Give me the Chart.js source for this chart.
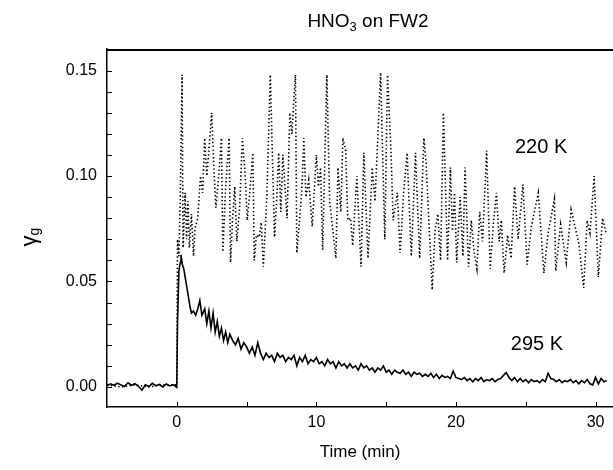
<!DOCTYPE html>
<html>
<head>
<meta charset="utf-8">
<script src="https://cdn.jsdelivr.net/npm/chart.js@4.4.1/dist/chart.umd.min.js"></script>
<style>
  html, body { margin: 0; padding: 0; background: #fff; }
  canvas { display: block; }
</style>
</head>
<body>
<canvas id="c" width="613" height="470"></canvas>
<script>
// 295 K trace (solid)
var t295 = [-5.0, -4.75, -4.5, -4.25, -4.0, -3.75, -3.5, -3.25, -3.0, -2.75, -2.5, -2.25, -2.0, -1.75, -1.5, -1.25, -1.0, -0.75, -0.5, -0.25, 0.0,
  0.05, 0.15, 0.25, 0.3, 0.4, 0.5, 0.65, 0.8, 0.95, 1.05, 1.2, 1.35, 1.5, 1.65, 1.8, 2.0, 2.15, 2.3, 2.45, 2.6, 2.75, 2.9, 3.05, 3.2, 3.35, 3.5, 3.65, 3.8,
  4.0, 4.2, 4.4, 4.6, 4.8, 5.0, 5.2, 5.4, 5.6, 5.8, 6.0, 6.2, 6.4, 6.6, 6.8, 7.0, 7.2, 7.4, 7.6, 7.8, 8.0, 8.2, 8.4, 8.6, 8.8, 9.0, 9.2, 9.4, 9.6, 9.8,
  10.0, 10.2, 10.4, 10.6, 10.8, 11.0, 11.2, 11.4, 11.6, 11.8, 12.0, 12.2, 12.4, 12.6, 12.8, 13.0, 13.2, 13.4, 13.6, 13.8, 14.0, 14.2, 14.4, 14.6, 14.8,
  15.0, 15.2, 15.4, 15.6, 15.8, 16.0, 16.2, 16.4, 16.6, 16.8, 17.0, 17.2, 17.4, 17.6, 17.8, 18.0, 18.2, 18.4, 18.6, 18.8, 19.0, 19.2, 19.4, 19.6, 19.8,
  20.0, 20.2, 20.4, 20.6, 20.8, 21.0, 21.2, 21.4, 21.6, 21.8, 22.0, 22.2, 22.4, 22.6, 22.8, 23.0, 23.2, 23.4, 23.6, 23.8, 24.0, 24.2, 24.4, 24.6, 24.8,
  25.0, 25.2, 25.4, 25.6, 25.8, 26.0, 26.2, 26.4, 26.6, 26.8, 27.0, 27.2, 27.4, 27.6, 27.8, 28.0, 28.2, 28.4, 28.6, 28.8, 29.0, 29.2, 29.4, 29.6, 29.8,
  30.0, 30.2, 30.4, 30.6, 30.8];
var g295 = [0.0005, 0.0015, 0.0008, 0.0018, 0.0010, 0.0002, 0.0020, 0.0008, 0.0016, 0.0003, -0.0015, 0.0010, 0.0002, 0.0017, 0.0006, 0.0012, 0.0000, 0.0014, 0.0005, 0.0011, -0.0002,
  0.030, 0.055, 0.059, 0.0626, 0.058, 0.056, 0.050, 0.044, 0.038, 0.035, 0.036, 0.034, 0.037, 0.041, 0.034, 0.037, 0.030, 0.036, 0.028, 0.035, 0.026, 0.031, 0.024, 0.028, 0.022, 0.026, 0.021, 0.025,
  0.022, 0.020, 0.023, 0.018, 0.021, 0.019, 0.016, 0.019, 0.015, 0.021, 0.016, 0.013, 0.016, 0.014, 0.015, 0.012, 0.016, 0.014, 0.015, 0.012, 0.014, 0.013, 0.015, 0.010, 0.014, 0.012, 0.015, 0.011, 0.013, 0.012,
  0.014, 0.011, 0.012, 0.010, 0.013, 0.011, 0.012, 0.009, 0.012, 0.010, 0.011, 0.009, 0.011, 0.009, 0.010, 0.008, 0.011, 0.009, 0.010, 0.008, 0.009, 0.007, 0.009, 0.008, 0.010,
  0.007, 0.008, 0.006, 0.008, 0.007, 0.0065, 0.008, 0.006, 0.007, 0.005, 0.007, 0.006, 0.0065, 0.005, 0.006, 0.005, 0.0065, 0.0045, 0.006, 0.004, 0.0055, 0.0045, 0.005, 0.004, 0.0075,
  0.0045, 0.004, 0.0035, 0.0045, 0.003, 0.004, 0.0025, 0.004, 0.003, 0.0045, 0.0025, 0.0035, 0.003, 0.004, 0.0025, 0.0035, 0.004, 0.0055, 0.0068, 0.0045, 0.003, 0.0045, 0.0025, 0.004, 0.0025,
  0.0035, 0.002, 0.0035, 0.0025, 0.003, 0.002, 0.0035, 0.0025, 0.0065, 0.004, 0.0035, 0.0025, 0.0035, 0.002, 0.003, 0.0025, 0.0035, 0.002, 0.003, 0.0015, 0.003, 0.002, 0.0035, 0.0015, 0.001,
  0.0045, 0.0015, 0.004, 0.0025, 0.003];

// 220 K trace (dotted)
var t220 = [-5.0, -4.0, -3.0, -2.0, -1.0, 0.0, 0.05, 0.15, 0.25, 0.38, 0.45, 0.6, 0.7, 0.8, 0.9, 1.05, 1.2, 1.3, 1.5, 1.7, 1.85,
  2.0, 2.15, 2.3, 2.5, 2.65, 2.8, 3.0, 3.2, 3.3, 3.5, 3.75, 3.85, 4.0, 4.15, 4.3, 4.5, 4.7, 4.9, 5.05, 5.2, 5.45, 5.55, 5.7, 5.9,
  6.05, 6.2, 6.45, 6.7, 7.0, 7.15, 7.3, 7.45, 7.6, 7.9, 8.1, 8.25, 8.35, 8.5, 8.6, 8.8, 8.95, 9.1, 9.25, 9.45, 9.7,
  10.0, 10.15, 10.3, 10.45, 10.75, 10.95, 11.15, 11.4, 11.55, 11.75, 11.9, 12.1, 12.25, 12.45, 12.6, 12.9, 13.2, 13.4, 13.7,
  14.0, 14.2, 14.6, 14.9, 15.1, 15.35, 15.5, 15.8, 16.0, 16.25, 16.5, 16.8, 17.1, 17.4, 17.7, 17.85, 18.05, 18.3, 18.5, 18.7, 18.9,
  19.1, 19.4, 19.6, 19.75, 19.9, 20.05, 20.3, 20.5, 20.65, 20.9, 21.1, 21.3, 21.5, 21.7, 21.9, 22.2, 22.45, 22.7, 22.9,
  23.1, 23.25, 23.45, 23.7, 23.95, 24.2, 24.45, 24.8, 25.1, 25.4, 25.9, 26.3, 26.6, 27.05, 27.15, 27.5, 27.9,
  28.25, 28.6, 28.8, 29.15, 29.4, 29.6, 29.9, 30.2, 30.5, 30.75];
var g220 = [0.001, 0.0, 0.001, 0.0, 0.001, 0.001, 0.070, 0.062, 0.090, 0.148, 0.066, 0.092, 0.070, 0.088, 0.066, 0.082, 0.062, 0.075, 0.080, 0.100, 0.092,
  0.118, 0.100, 0.112, 0.130, 0.105, 0.085, 0.100, 0.118, 0.064, 0.095, 0.118, 0.059, 0.080, 0.095, 0.069, 0.085, 0.118, 0.100, 0.079, 0.090, 0.111, 0.060, 0.072, 0.071,
  0.078, 0.057, 0.090, 0.148, 0.071, 0.088, 0.111, 0.083, 0.110, 0.080, 0.130, 0.120, 0.132, 0.148, 0.0635, 0.080, 0.092, 0.118, 0.090, 0.098, 0.076,
  0.110, 0.095, 0.104, 0.065, 0.148, 0.088, 0.076, 0.061, 0.104, 0.083, 0.118, 0.112, 0.079, 0.080, 0.067, 0.100, 0.057, 0.111, 0.061,
  0.104, 0.088, 0.149, 0.070, 0.148, 0.111, 0.079, 0.092, 0.0635, 0.092, 0.111, 0.062, 0.111, 0.061, 0.118, 0.107, 0.080, 0.046, 0.074, 0.082, 0.060,
  0.130, 0.060, 0.104, 0.074, 0.092, 0.059, 0.090, 0.062, 0.104, 0.057, 0.079, 0.064, 0.056, 0.083, 0.069, 0.112, 0.056, 0.079, 0.092,
  0.069, 0.079, 0.054, 0.072, 0.061, 0.095, 0.070, 0.096, 0.058, 0.076, 0.092, 0.054, 0.073, 0.089, 0.055, 0.077, 0.059,
  0.084, 0.074, 0.068, 0.047, 0.079, 0.073, 0.100, 0.052, 0.080, 0.073];

var xTicks = [0, 5, 10, 15, 20, 25, 30];
var xTickLabels = ["0", "", "10", "", "20", "", "30"];
var yTicks = [0.00, 0.01, 0.02, 0.03, 0.04, 0.05, 0.06, 0.07, 0.08, 0.09, 0.10, 0.11, 0.12, 0.13, 0.14, 0.15];
var yTickLabels = ["0.00", "", "", "", "", "0.05", "", "", "", "", "0.10", "", "", "", "", "0.15"];

var FONT = "'Liberation Sans', Arial, sans-serif";

function pts(tt, gg) {
    return tt.map(function(t, i) { return {x: t, y: gg[i]}; });
}

// draws a run of text pieces (some subscripted) centred on cx
function drawParts(ctx, parts, cx, cy) {
    var w = 0;
    parts.forEach(function(p) { ctx.font = p.size + "px " + FONT; w += ctx.measureText(p.t).width; });
    var x = cx - w / 2;
    parts.forEach(function(p) {
        ctx.font = p.size + "px " + FONT;
        ctx.fillText(p.t, x, cy + (p.dy || 0));
        x += ctx.measureText(p.t).width;
    });
}

var decor = {
    id: "decor",
    afterDraw: function(chart) {
        var ctx = chart.ctx, a = chart.chartArea, xs = chart.scales.x, ys = chart.scales.y;
        ctx.save();
        ctx.strokeStyle = "#000";
        ctx.fillStyle = "#000";
        // top frame
        ctx.lineWidth = 2;
        ctx.beginPath(); ctx.moveTo(a.left, a.top + 1); ctx.lineTo(a.right, a.top + 1); ctx.stroke();
        // inward tick marks
        ctx.lineWidth = 1;
        xs.ticks.forEach(function(t) {
            var px = Math.round(xs.getPixelForValue(t.value)) + 0.5;
            ctx.beginPath(); ctx.moveTo(px, a.bottom); ctx.lineTo(px, a.bottom - 5); ctx.stroke();
        });
        ys.ticks.forEach(function(t) {
            var py = Math.round(ys.getPixelForValue(t.value)) + 0.5;
            ctx.beginPath(); ctx.moveTo(a.left, py); ctx.lineTo(a.left + 5, py); ctx.stroke();
        });
        ctx.textBaseline = "middle";
        ctx.textAlign = "left";
        // title
        drawParts(ctx, [{t: "HNO", size: 19}, {t: "3", size: 13, dy: 5}, {t: " on FW2", size: 19}], 368, 22);
        // series labels
        drawParts(ctx, [{t: "220 K", size: 20}], xs.getPixelForValue(26.1), ys.getPixelForValue(0.1133));
        drawParts(ctx, [{t: "295 K", size: 20}], xs.getPixelForValue(25.8), ys.getPixelForValue(0.0199));
        // x title
        drawParts(ctx, [{t: "Time (min)", size: 17}], (a.left + a.right) / 2, 452);
        // y title (rotated)
        ctx.translate(30, 237);
        ctx.rotate(-Math.PI / 2);
        drawParts(ctx, [{t: "\u03b3", size: 22}, {t: "g", size: 14, dy: 5}], 0, 0);
        ctx.restore();
    }
};

var ctx = document.getElementById("c").getContext("2d");
var chart = new Chart(ctx, {
    type: "line",
    data: {
        datasets: [{
                label: "220 K",
                data: pts(t220, g220),
                borderColor: "#000",
                borderWidth: 1.6,
                borderDash: [1.4, 2.4],
                pointRadius: 0,
                tension: 0
            },
            {
                label: "295 K",
                data: pts(t295, g295),
                borderColor: "#000",
                borderWidth: 1.6,
                pointRadius: 0,
                tension: 0
            }
        ]
    },
    options: {
        responsive: false,
        animation: false,
        layout: { padding: { top: 49, right: 0, left: 0, bottom: 0 } },
        plugins: { legend: { display: false }, tooltip: { enabled: false } },
        scales: {
            x: {
                type: "linear",
                min: -5,
                max: 31.25,
                afterBuildTicks: function(s) { s.ticks = xTicks.map(function(v) { return {value: v}; }); },
                afterFit: function(s) { s.height = 63; },
                grid: { display: false, drawTicks: false },
                border: { display: true, color: "#000", width: 1.5 },
                ticks: {
                    color: "#000",
                    font: { family: FONT, size: 16 },
                    padding: 6,
                    maxRotation: 0,
                    autoSkip: false,
                    callback: function(v, i) { return xTickLabels[i]; }
                }
            },
            y: {
                min: -0.0095,
                max: 0.1602,
                afterBuildTicks: function(s) { s.ticks = yTicks.map(function(v) { return {value: v}; }); },
                afterFit: function(s) { s.width = 107; },
                grid: { display: false, drawTicks: false },
                border: { display: true, color: "#000", width: 1.5 },
                ticks: {
                    color: "#000",
                    font: { family: FONT, size: 16 },
                    padding: 10,
                    autoSkip: false,
                    callback: function(v, i) { return yTickLabels[i]; }
                }
            }
        }
    },
    plugins: [decor]
});
</script>
</body>
</html>
